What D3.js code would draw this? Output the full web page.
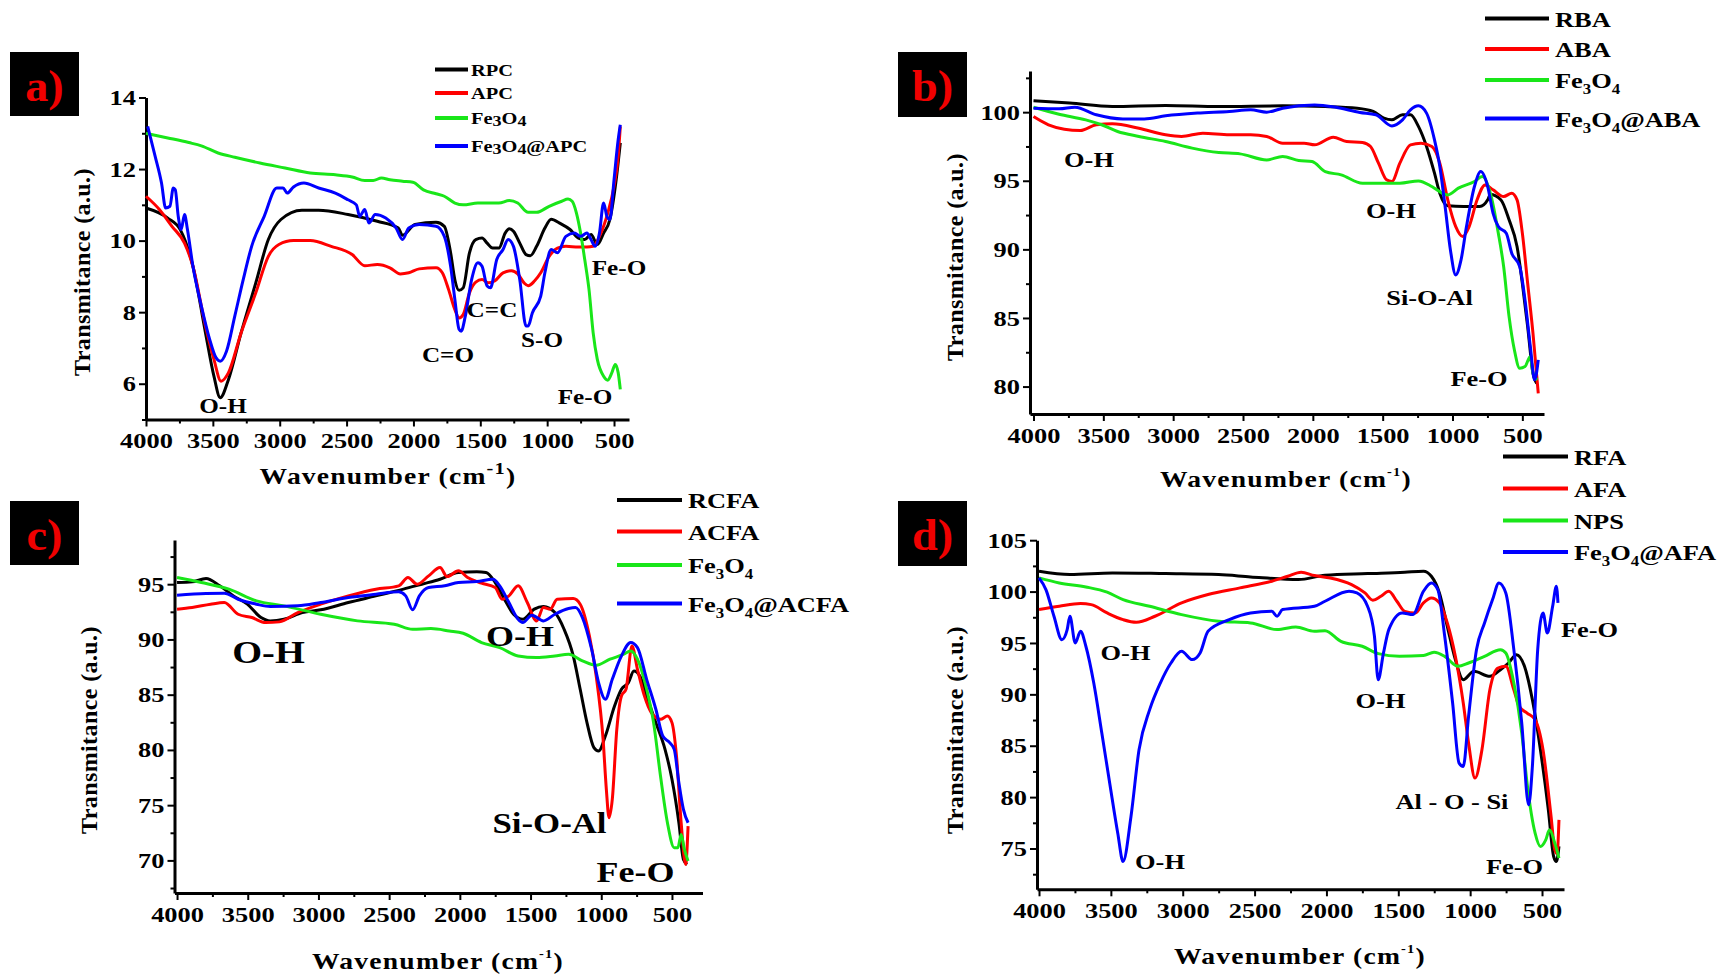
<!DOCTYPE html>
<html>
<head>
<meta charset="utf-8">
<script src="https://cdn.jsdelivr.net/npm/d3@7"></script>
<style>
  body { margin: 0; background: #fff; }
  text { font-family: "Liberation Serif", "Times New Roman", serif; font-weight: bold; fill: #000; }
</style>
</head>
<body>
<svg id="chart" width="1733" height="979"></svg>
<script>
// ---- data: [wavenumber, transmittance] ----
var xTicks = [4000, 3500, 3000, 2500, 2000, 1500, 1000, 500];
var xMinor = [3750, 3250, 2750, 2250, 1750, 1250, 750];

// a) RPC / APC
var aYTicks = [6, 8, 10, 12, 14];
var aYMinor = [5, 7, 9, 11, 13];
var aNames = ['RPC', 'APC', 'Fe3O4', 'Fe3O4@APC'];
var RPC = [[4000,10.91],[3837,10.63],[3743,10.3],[3649,9.28],[3555,7.42],[3492,6.21],[3445,5.61],[3383,6.12],[3289,7.42],[3179,8.82],[3085,10.03],[2991,10.59],[2834,10.85],[2709,10.85],[2489,10.73],[2270,10.54],[2113,10.35],[2082,10.15],[1988,10.45],[1831,10.51],[1769,10.4],[1722,9.66],[1690,8.9],[1659,8.61],[1628,8.68],[1581,9.66],[1534,10.03],[1487,10.07],[1449,9.93],[1408,9.79],[1361,9.79],[1314,10.21],[1283,10.33],[1252,10.26],[1205,9.93],[1158,9.61],[1126,9.58],[1079,9.84],[1017,10.35],[970,10.6],[907,10.49],[829,10.31],[766,10.07],[719,10.03],[672,10.17],[625,9.89],[578,10.21],[531,10.59],[484,11.7],[453,12.73]];
var APC = [[4000,11.24],[3900,10.87],[3806,10.4],[3712,9.93],[3649,9.28],[3555,7.61],[3492,6.68],[3439,6.07],[3383,6.31],[3289,7.42],[3179,8.54],[3085,9.56],[3006,9.89],[2897,10.0],[2772,10.0],[2615,9.84],[2458,9.61],[2364,9.3],[2270,9.33],[2176,9.24],[2098,9.07],[2035,9.1],[1957,9.21],[1831,9.24],[1784,9.1],[1737,8.63],[1690,8.07],[1659,7.84],[1628,7.93],[1581,8.54],[1534,8.84],[1487,8.91],[1440,8.82],[1393,8.87],[1330,9.1],[1267,9.16],[1220,9.07],[1173,8.82],[1142,8.74],[1095,8.87],[1048,9.1],[985,9.56],[923,9.79],[860,9.84],[766,9.82],[703,9.82],[656,9.84],[609,10.12],[547,10.77],[500,11.52],[469,12.35],[453,13.19]];
var aFe3O4 = [[4000,13.0],[3837,12.87],[3680,12.74],[3586,12.65],[3461,12.45],[3336,12.33],[3148,12.17],[2960,12.03],[2772,11.89],[2584,11.84],[2458,11.78],[2364,11.68],[2301,11.68],[2239,11.75],[2176,11.7],[2082,11.66],[2004,11.63],[1925,11.42],[1831,11.31],[1769,11.24],[1690,11.05],[1628,11.0],[1518,11.05],[1361,11.05],[1283,11.12],[1220,11.05],[1142,10.79],[1079,10.79],[985,10.96],[891,11.1],[844,11.16],[813,11.1],[781,10.77],[750,10.21],[719,9.47],[687,8.63],[656,7.42],[625,6.68],[578,6.21],[547,6.1],[516,6.31],[491,6.54],[469,6.31],[453,5.84]];
var FeAPC = [[3987,13.19],[3931,12.35],[3884,11.61],[3853,10.91],[3821,10.96],[3796,11.47],[3781,11.42],[3759,10.68],[3737,10.31],[3712,10.73],[3690,10.31],[3649,9.28],[3586,8.17],[3524,7.24],[3477,6.73],[3445,6.63],[3398,6.91],[3336,7.89],[3273,8.91],[3210,9.84],[3116,10.68],[3022,11.47],[2975,11.47],[2944,11.33],[2897,11.5],[2819,11.61],[2709,11.47],[2584,11.33],[2489,11.14],[2427,11.0],[2402,10.68],[2364,10.87],[2333,10.49],[2286,10.73],[2207,10.63],[2129,10.35],[2082,10.03],[2035,10.35],[1957,10.45],[1831,10.4],[1769,10.12],[1722,9.28],[1690,8.35],[1659,7.52],[1643,7.47],[1612,7.89],[1565,8.91],[1518,9.38],[1487,9.28],[1449,8.73],[1424,8.68],[1377,9.47],[1330,9.75],[1292,10.03],[1252,9.84],[1205,8.91],[1158,7.61],[1142,7.61],[1111,7.98],[1048,8.45],[1017,9.1],[970,9.75],[923,9.66],[860,10.12],[797,10.21],[750,10.12],[703,10.21],[672,10.03],[641,9.84],[609,10.21],[578,11.05],[553,10.68],[531,10.59],[500,11.7],[469,12.82],[453,13.24]];

// b) RBA / ABA
var bYTicks = [80, 85, 90, 95, 100];
var bYMinor = [82.5, 87.5, 92.5, 97.5, 102.5];
var bNames = ['RBA', 'ABA', 'Fe3O4', 'Fe3O4@ABA'];
var RBA = [[4000,100.83],[3741,100.66],[3436,100.41],[3054,100.49],[2673,100.41],[2216,100.46],[1911,100.41],[1682,100.29],[1568,100.05],[1491,99.56],[1434,99.44],[1358,99.81],[1301,99.81],[1244,98.96],[1186,97.5],[1129,95.55],[1091,94.09],[1034,93.17],[920,93.12],[805,93.12],[748,93.61],[729,94.0],[653,93.6],[595,92.15],[538,90.21],[500,87.53],[462,84.37],[424,80.97],[397,80.24]];
var ABA = [[4000,99.68],[3893,99.08],[3779,98.76],[3665,98.66],[3550,99.08],[3436,99.15],[3245,98.83],[3054,98.35],[2940,98.23],[2788,98.47],[2597,98.35],[2445,98.35],[2330,98.23],[2216,97.74],[2063,97.74],[1987,97.62],[1854,98.18],[1758,97.86],[1644,97.79],[1587,97.5],[1530,96.28],[1472,95.07],[1434,94.95],[1377,96.28],[1301,97.62],[1225,97.74],[1148,97.5],[1091,96.28],[1034,93.61],[977,91.66],[927,90.94],[881,91.66],[824,93.61],[767,94.7],[710,94.34],[634,93.85],[576,94.09],[538,93.61],[500,91.18],[462,87.53],[424,83.89],[386,79.51]];
var bFe3O4 = [[4000,100.36],[3817,99.85],[3626,99.44],[3512,99.08],[3398,98.59],[3245,98.23],[3054,97.86],[2864,97.38],[2673,97.06],[2521,96.96],[2330,96.52],[2216,96.77],[2101,96.48],[2006,96.4],[1911,95.67],[1797,95.43],[1644,94.82],[1530,94.82],[1377,94.82],[1244,94.99],[1148,94.58],[1072,94.09],[1034,93.97],[958,94.46],[843,94.95],[786,95.31],[729,94.09],[672,91.18],[634,88.75],[595,85.1],[557,82.67],[519,81.34],[481,81.46],[443,82.19],[424,80.97],[393,80.49]];
var FeABA = [[4000,100.29],[3817,100.24],[3703,100.36],[3550,99.81],[3360,99.51],[3207,99.51],[3054,99.73],[2826,99.93],[2597,100.05],[2445,100.17],[2330,100.0],[2216,100.29],[1987,100.53],[1835,100.36],[1663,99.98],[1549,99.81],[1434,99.0],[1358,99.44],[1301,100.17],[1244,100.46],[1186,99.93],[1129,97.98],[1091,96.04],[1053,93.12],[1015,89.96],[977,88.14],[939,89.23],[900,91.66],[843,94.58],[798,95.67],[748,94.58],[710,92.64],[672,91.66],[615,91.18],[576,89.72],[519,88.75],[481,86.32],[443,82.92],[412,80.49],[386,81.94]];

// c) RCFA / ACFA
var cYTicks = [70, 75, 80, 85, 90, 95];
var cYMinor = [67.5, 72.5, 77.5, 82.5, 87.5, 92.5, 97.5];
var cNames = ['RCFA', 'ACFA', 'Fe3O4', 'Fe3O4@ACFA'];
var RCFA = [[4000,95.15],[3893,95.21],[3795,95.51],[3698,94.85],[3601,93.94],[3503,93.19],[3406,91.98],[3341,91.68],[3244,91.83],[3114,92.43],[2984,92.68],[2789,93.34],[2594,93.94],[2399,94.55],[2269,95.0],[2140,95.45],[2010,96.06],[1880,96.12],[1815,96.06],[1750,95.15],[1685,93.64],[1620,92.28],[1555,91.83],[1474,92.74],[1409,92.98],[1328,92.43],[1263,90.92],[1198,88.51],[1149,85.49],[1101,82.47],[1052,80.21],[1019,79.9],[971,81.26],[906,83.98],[857,85.49],[808,86.09],[769,87.15],[727,86.7],[679,84.89],[614,82.47],[549,80.05],[500,77.34],[451,73.41],[419,70.09],[393,69.64]];
var ACFA = [[4000,92.74],[3893,92.89],[3763,93.19],[3666,93.34],[3568,92.28],[3471,91.98],[3373,91.53],[3276,91.59],[3146,92.43],[2984,93.19],[2789,93.94],[2594,94.55],[2432,94.85],[2367,95.6],[2302,95.0],[2221,95.75],[2140,96.51],[2091,95.69],[2010,96.21],[1945,95.6],[1847,95.09],[1750,94.7],[1701,93.64],[1653,93.94],[1588,94.85],[1523,93.34],[1458,91.68],[1409,92.89],[1360,92.74],[1312,93.64],[1198,93.7],[1149,93.19],[1084,90.32],[1036,86.7],[987,80.96],[964,76.43],[945,73.86],[922,75.52],[890,81.86],[857,84.89],[825,85.49],[783,89.41],[744,87.3],[695,84.89],[646,83.38],[581,82.77],[532,83.07],[500,82.47],[468,79.45],[435,73.41],[403,69.64],[386,73.1]];
var cFe3O4 = [[4000,95.6],[3828,95.15],[3633,94.55],[3438,93.49],[3244,93.04],[2984,92.28],[2724,91.68],[2464,91.38],[2334,90.92],[2205,90.98],[2075,90.77],[1977,90.56],[1847,89.72],[1718,89.26],[1588,88.51],[1458,88.36],[1328,88.51],[1231,88.66],[1133,88.06],[1036,87.66],[938,88.21],[841,88.66],[792,88.96],[744,88.21],[679,85.49],[630,82.47],[581,77.64],[532,73.41],[484,71.15],[458,71.15],[435,72.35],[412,70.99],[386,69.94]];
var FeACFA = [[4000,94.0],[3795,94.15],[3666,94.18],[3568,93.64],[3438,93.19],[3341,92.98],[3146,93.04],[2984,93.34],[2789,93.79],[2594,94.09],[2432,94.31],[2383,93.94],[2334,92.68],[2286,93.94],[2221,94.7],[2107,94.85],[2010,95.15],[1880,95.24],[1766,95.45],[1718,94.85],[1653,93.34],[1588,91.83],[1555,91.53],[1490,92.19],[1409,91.68],[1328,92.28],[1231,92.8],[1182,92.89],[1133,91.98],[1068,89.11],[1019,86.09],[971,84.58],[922,86.39],[857,88.51],[792,89.72],[744,89.26],[679,86.39],[614,83.68],[565,81.26],[516,80.66],[484,80.05],[451,77.03],[419,74.62],[386,73.41]];

// d) RFA / AFA
var dYTicks = [75, 80, 85, 90, 95, 100, 105];
var dYMinor = [72.5, 77.5, 82.5, 87.5, 92.5, 97.5, 102.5];
var dNames = ['RFA', 'AFA', 'NPS', 'Fe3O4@AFA'];
var RFA = [[4000,101.98],[3785,101.66],[3489,101.82],[3119,101.75],[2750,101.66],[2528,101.43],[2195,101.17],[2010,101.59],[1714,101.75],[1455,101.88],[1325,101.98],[1270,101.49],[1214,99.87],[1159,96.62],[1103,93.38],[1048,91.43],[974,92.24],[863,91.75],[789,92.4],[733,93.05],[678,93.86],[622,92.73],[567,89.48],[511,84.61],[456,78.77],[419,74.22],[400,73.73],[382,75.2]];
var AFA = [[4000,98.25],[3859,98.57],[3711,98.83],[3637,98.73],[3526,97.92],[3415,97.27],[3323,97.01],[3193,97.6],[3008,98.9],[2824,99.71],[2602,100.36],[2380,101.01],[2269,101.49],[2176,101.88],[2084,101.56],[1973,101.33],[1825,100.68],[1732,99.87],[1677,99.16],[1621,99.55],[1566,100.03],[1510,99.06],[1455,98.08],[1381,97.92],[1325,98.9],[1270,99.38],[1214,98.9],[1159,96.95],[1103,93.7],[1048,89.16],[1011,85.26],[966,81.85],[918,84.61],[863,90.45],[807,92.56],[752,92.73],[696,90.45],[659,88.83],[604,88.18],[548,87.53],[493,84.61],[437,78.12],[411,74.87],[395,74.5],[382,77.79]];
var NPS = [[4000,101.33],[3859,100.84],[3674,100.45],[3526,99.94],[3415,99.22],[3230,98.57],[3008,97.76],[2750,97.11],[2528,96.95],[2343,96.3],[2213,96.56],[2084,96.14],[2010,96.2],[1899,95.16],[1751,94.68],[1640,93.96],[1492,93.7],[1325,93.77],[1251,94.09],[1177,93.7],[1085,92.73],[1011,93.05],[900,93.7],[789,94.35],[752,94.03],[696,91.1],[641,86.23],[604,81.36],[548,76.49],[511,75.19],[474,75.84],[448,76.82],[411,75.52],[382,74.06]];
var FeAFA = [[4000,101.33],[3952,100.19],[3896,97.6],[3841,95.32],[3804,96.3],[3785,97.6],[3748,95.0],[3711,96.14],[3674,94.68],[3619,91.1],[3563,86.23],[3508,81.36],[3452,76.49],[3415,73.73],[3360,78.12],[3304,84.61],[3230,88.51],[3156,91.1],[3082,93.05],[3008,94.19],[2934,93.38],[2879,94.03],[2824,96.14],[2676,97.27],[2528,97.92],[2380,98.08],[2343,97.6],[2306,98.25],[2084,98.57],[2010,99.06],[1843,100.03],[1788,99.87],[1714,98.57],[1666,95.65],[1640,91.43],[1603,94.03],[1566,96.3],[1473,97.92],[1399,97.76],[1325,100.03],[1270,100.84],[1225,100.19],[1177,95.65],[1122,89.16],[1077,83.31],[1048,82.99],[1011,87.86],[956,94.35],[900,96.95],[844,99.22],[800,100.84],[752,99.87],[696,94.35],[641,87.21],[593,79.25],[567,82.99],[530,94.35],[493,97.92],[463,95.97],[426,98.57],[400,100.52],[389,98.9]];

var colors = ['#000000', '#ff0000', '#19e619', '#0000ff'];

// ---- layout ----
var SX = 1.2; // the original lettering is stretched sideways
var panels = [
  {tag: 'a)', box: [10, 52, 69, 64], xr: [146, 629], xd: [4000, 388], yr: [419.5, 97.5], yd: [5, 14],
   yTicks: aYTicks, yMinor: aYMinor, series: [RPC, APC, aFe3O4, FeAPC], names: aNames,
   yTitle: [82, 272], xTitle: [388, 484], supBig: true,
   legend: {x1: 435, x2: 468, tx: 471, ys: [69.5, 93, 118, 146], size: 17, small: true},
   notes: [['O-H', 223, 406, 21], ['C=O', 448, 355, 21], ['C=C', 492, 310, 21], ['S-O', 542, 340, 21], ['Fe-O', 619, 268, 21], ['Fe-O', 585, 397, 21]]},
  {tag: 'b)', box: [898, 52, 69, 65], xr: [1030, 1544], xd: [4025, 345], yr: [414, 71], yd: [78, 103],
   yTicks: bYTicks, yMinor: bYMinor, series: [RBA, ABA, bFe3O4, FeABA], names: bNames,
   yTitle: [955, 257], xTitle: [1286, 487],
   legend: {x1: 1485, x2: 1549, tx: 1555, ys: [18.5, 49, 80, 118.5], size: 22},
   notes: [['O-H', 1089, 159, 22], ['O-H', 1391, 210, 22], ['Si-O-Al', 1429.5, 297, 22], ['Fe-O', 1479, 378, 22]]},
  {tag: 'c)', box: [10, 501, 69, 64], xr: [174.5, 702.5], xd: [4018, 284], yr: [893, 540], yd: [67.05, 99],
   yTicks: cYTicks, yMinor: cYMinor, series: [RCFA, ACFA, cFe3O4, FeACFA], names: cNames,
   yTitle: [89, 730], xTitle: [438, 969],
   legend: {x1: 617, x2: 682, tx: 688, ys: [500, 531.5, 565, 603.5], size: 22},
   notes: [['O-H', 268.5, 652.5, 32], ['O-H', 520, 636, 30], ['Si-O-Al', 549.5, 823, 29], ['Fe-O', 635.5, 872, 30]]},
  {tag: 'd)', box: [898, 501, 69, 65], xr: [1037, 1564], xd: [4014, 347], yr: [889.3, 540.2], yd: [71.03, 105],
   yTicks: dYTicks, yMinor: dYMinor, series: [RFA, AFA, NPS, FeAFA], names: dNames,
   yTitle: [955, 730], xTitle: [1300, 964],
   legend: {x1: 1503, x2: 1568, tx: 1574, ys: [456.5, 488.5, 520.5, 552], size: 22},
   notes: [['O-H', 1125.5, 652, 22], ['O-H', 1160, 861.5, 22], ['O-H', 1380.5, 700, 22], ['Al - O - Si', 1452, 801, 22], ['Fe-O', 1589.5, 629, 22], ['Fe-O', 1514.5, 866.5, 22]]}
];

var svg = d3.select('#chart');
svg.append('rect').attr('width', 1733).attr('height', 979).attr('fill', '#fff');

// horizontal text, stretched like the original
function stext(g, x, y, size, anchor, sx) {
  return g.append('text')
    .attr('transform', 'translate(' + x + ',' + y + ') scale(' + (sx || SX) + ',1)')
    .attr('text-anchor', anchor || 'middle')
    .attr('dominant-baseline', 'central')
    .style('font-size', size + 'px');
}

// names like Fe3O4 get lowered digits
function richName(t, str, small, size) {
  var shift = 0;
  str.split(/(\d)/).forEach(function(s) {
    if (!s) return;
    var sub = /\d/.test(s);
    var target = sub ? (small ? 3 : 9) : 0;
    t.append('tspan')
      .attr('dy', target - shift)
      .style('font-size', sub ? (small ? size - 2 : size - 8) + 'px' : size + 'px')
      .text(s);
    shift = target;
  });
}

panels.forEach(function(p) {
  var g = svg.append('g');
  var x = d3.scaleLinear().domain(p.xd).range(p.xr);
  var y = d3.scaleLinear().domain(p.yd).range(p.yr);

  // minor ticks
  g.append('g').attr('transform', 'translate(0,' + p.yr[0] + ')')
    .call(d3.axisBottom(x).tickValues(xMinor).tickSize(4).tickSizeOuter(0).tickFormat(''))
    .call(function(a) { a.select('.domain').remove(); a.selectAll('line').attr('stroke-width', 2); });
  g.append('g').attr('transform', 'translate(' + p.xr[0] + ',0)')
    .call(d3.axisLeft(y).tickValues(p.yMinor).tickSize(4).tickSizeOuter(0).tickFormat(''))
    .call(function(a) { a.select('.domain').remove(); a.selectAll('line').attr('stroke-width', 2); });

  // major axes
  var xa = g.append('g').attr('transform', 'translate(0,' + p.yr[0] + ')')
    .call(d3.axisBottom(x).tickValues(xTicks).tickSize(7).tickSizeOuter(0).tickPadding(6).tickFormat(d3.format('d')));
  var ya = g.append('g').attr('transform', 'translate(' + p.xr[0] + ',0)')
    .call(d3.axisLeft(y).tickValues(p.yTicks).tickSize(7).tickSizeOuter(0).tickFormat(d3.format('d')));
  [xa, ya].forEach(function(a) {
    a.select('.domain').attr('stroke-width', 3);
    a.selectAll('line').attr('stroke-width', 2);
    a.selectAll('text').style('font-size', '22px').attr('fill', '#000');
  });
  xa.selectAll('text').attr('transform', 'scale(' + SX + ',1)').attr('x', 0);
  ya.selectAll('text').attr('x', -10 / SX).attr('transform', 'scale(' + SX + ',1)');

  // curves
  var line = d3.line()
    .x(function(d) { return x(d[0]); })
    .y(function(d) { return y(d[1]); })
    .curve(d3.curveMonotoneX);
  p.series.forEach(function(s, i) {
    g.append('path').datum(s)
      .attr('d', line)
      .attr('fill', 'none')
      .attr('stroke', colors[i])
      .attr('stroke-width', 3)
      .attr('stroke-linejoin', 'round');
  });

  // axis titles
  g.append('text')
    .attr('transform', 'translate(' + p.yTitle[0] + ',' + p.yTitle[1] + ') rotate(-90)')
    .attr('text-anchor', 'middle')
    .attr('dominant-baseline', 'central')
    .style('font-size', '24px')
    .style('letter-spacing', '0.4px')
    .text('Transmitance (a.u.)');
  var xt = g.append('text')
    .attr('transform', 'translate(' + p.xTitle[0] + ',' + p.xTitle[1] + ') scale(' + SX + ',1)')
    .attr('text-anchor', 'middle')
    .style('font-size', '23px')
    .style('letter-spacing', '1px');
  xt.append('tspan').text('Wavenumber (cm');
  xt.append('tspan').attr('dy', p.supBig ? -10 : -11).style('font-size', p.supBig ? '17px' : '12px').text('-1');
  xt.append('tspan').attr('dy', p.supBig ? 10 : 11).text(')');

  // legend
  var L = p.legend;
  p.names.forEach(function(n, i) {
    g.append('line')
      .attr('x1', L.x1).attr('x2', L.x2)
      .attr('y1', L.ys[i]).attr('y2', L.ys[i])
      .attr('stroke', colors[i]).attr('stroke-width', 4);
    var t = stext(g, L.tx, L.ys[i], L.size, 'start');
    richName(t, n, L.small, L.size);
  });

  // band annotations
  p.notes.forEach(function(n) {
    stext(g, n[1], n[2], n[3]).text(n[0]);
  });

  // panel tag
  g.append('rect')
    .attr('x', p.box[0]).attr('y', p.box[1])
    .attr('width', p.box[2]).attr('height', p.box[3])
    .attr('fill', '#000');
  stext(g, p.box[0] + p.box[2] / 2, p.box[1] + p.box[3] / 2 + 2, 44, 'middle', 1.05)
    .style('fill', '#f00000')
    .text(p.tag);
});
</script>
</body>
</html>
